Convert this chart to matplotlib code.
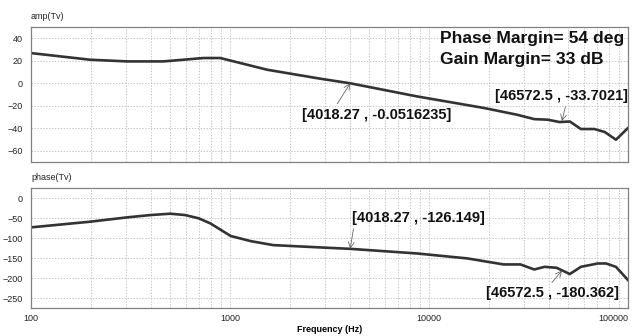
import numpy as np
import matplotlib
matplotlib.use("Agg")
import matplotlib.pyplot as plt
from matplotlib.ticker import FixedLocator, LogLocator, NullFormatter

plt.rcParams['font.family'] = ['Liberation Sans', 'DejaVu Sans']

# gain curve
amp_freq = [100, 198, 304, 463, 735, 894, 1538, 2850, 4018, 8700, 18900, 27700,
            33800, 39500, 45300, 51000, 58000, 67800, 76500, 87000, 100000]
amp_db = [26.8, 20.9, 19.4, 19.4, 22.4, 22.4, 12.0, 4.0, -0.05, -11.7, -22.0, -28.0,
          -31.9, -32.4, -34.5, -34.0, -40.7, -40.7, -43.4, -50.2, -39.8]

# phase curve
ph_freq = [100, 198, 304, 398, 501, 596, 697, 797, 1008, 1270, 1650, 2850, 4018,
           8700, 15600, 23700, 28800, 33800, 38100, 43800, 51000, 58000, 70500,
           77600, 87000, 100000]
ph_deg = [-72.5, -58.4, -47.6, -41.8, -38.4, -41.8, -50.0, -62.6, -94.0, -106.8,
          -116.8, -122.6, -126.1, -137.6, -150.0, -165.0, -165.0, -177.6, -171.0,
          -173.4, -189.0, -171.0, -162.6, -162.6, -171.0, -204.0]

amp_ticks = [40, 20, 0, -20, -40, -60]
ph_ticks = [0, -50, -100, -150, -200, -250]
x_ticks = [100, 1000, 10000, 100000]
x_labels = ['100', '1000', '10000', '100000']

line_col = '#333333'
grid_col = '#c8c8c8'

fig = plt.figure(figsize=(6.36, 3.36), dpi=100)
ax1 = fig.add_axes([0.0487, 0.5179, 0.9387, 0.4018])
ax2 = fig.add_axes([0.0487, 0.0842, 0.9387, 0.3554])


def style(ax, ticks):
  ax.set_xscale('log')
  ax.set_xlim(100, 100000)
  ax.yaxis.set_major_locator(FixedLocator(ticks))
  ax.xaxis.set_minor_locator(LogLocator(base=10, subs=np.arange(2, 10)))
  ax.xaxis.set_minor_formatter(NullFormatter())
  ax.grid(True, which='both', axis='x', color=grid_col, linestyle=(0, (1.5, 1.5)), linewidth=0.7)
  ax.grid(True, which='major', axis='y', color=grid_col, linestyle=(0, (1.5, 1.5)), linewidth=0.7)
  ax.tick_params(which='both', length=0, labelsize=6.5, colors='#222222', pad=6)
  for s in ax.spines.values():
    s.set_color('#808080')
    s.set_linewidth(0.9)


style(ax1, amp_ticks)
ax1.set_ylim(-70, 50)
ax1.set_xticklabels([])
ax1.plot(amp_freq, amp_db, color=line_col, linewidth=1.9)
ax1.text(0, 1.045, 'amp(Tv)', transform=ax1.transAxes, fontsize=6.5, color='#222222', va='bottom')

style(ax2, ph_ticks)
ax2.set_ylim(-273, 25)
ax2.set_xticks(x_ticks)
ax2.set_xticklabels(x_labels)
ax2.get_xticklabels()[-1].set_ha('right')
ax2.tick_params(axis='x', pad=4.5)
ax2.plot(ph_freq, ph_deg, color=line_col, linewidth=1.9)
ax2.text(0, 1.05, 'phase(Tv)', transform=ax2.transAxes, fontsize=6.5, color='#222222', va='bottom')
ax2.set_xlabel('Frequency (Hz)', fontsize=6.5, fontweight='bold', labelpad=1.5)


def note(ax, label, xy, xytext, ha, rel):
  ax.annotate(label, xy=xy, xytext=xytext, ha=ha, va='center',
              fontsize=10.5, fontweight='bold', color='#111111',
              arrowprops=dict(arrowstyle='->', color='#666666', lw=0.6,
                              shrinkA=1, shrinkB=0, relpos=rel))


note(ax1, '[4018.27 , -0.0516235]', (4018.27, -0.05), (2300, -28), 'left', (0.22, 1.0))
note(ax1, '[46572.5 , -33.7021]', (46572.5, -33.7), (99500, -11), 'right', (0.54, 0.0))
note(ax2, '[4018.27 , -126.149]', (4018.27, -126.1), (4080, -48), 'left', (0.02, 0.0))
note(ax2, '[46572.5 , -180.362]', (46572.5, -180.4), (90300, -237.5), 'right', (0.47, 1.0))

ax1.text(0.685, 0.916, 'Phase Margin= 54 deg', transform=ax1.transAxes,
         fontsize=12.6, fontweight='bold', color='#111111', va='center', ha='left')
ax1.text(0.685, 0.756, 'Gain Margin= 33 dB', transform=ax1.transAxes,
         fontsize=12.6, fontweight='bold', color='#111111', va='center', ha='left')

fig.savefig('out.png', dpi=100)
